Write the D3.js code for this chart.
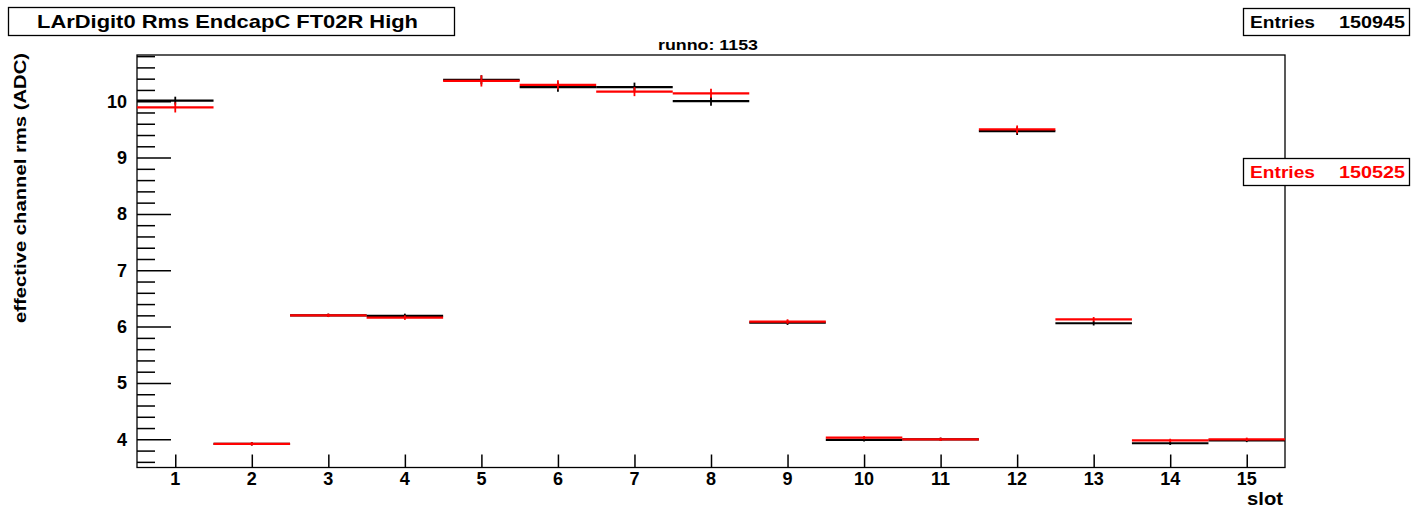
<!DOCTYPE html>
<html>
<head>
<meta charset="utf-8">
<script src="https://cdn.jsdelivr.net/npm/d3@7"></script>
<style>
  body { margin: 0; background: #fff; }
  text { font-family: "Liberation Sans", Arial, Helvetica, sans-serif; font-weight: bold; }
</style>
</head>
<body>
<div id="chart"></div>
<script>
// data
let slots = [1, 2, 3, 4, 5, 6, 7, 8, 9, 10, 11, 12, 13, 14, 15],
    black_mean = [10.01, 3.92, 6.20, 6.19, 10.38, 10.25, 10.25, 10.00, 6.07, 3.99, 4.00, 9.47, 6.06, 3.93, 3.98],
    black_err = [0.07, 0.03, 0.03, 0.04, 0.08, 0.08, 0.08, 0.08, 0.04, 0.03, 0.03, 0.07, 0.04, 0.03, 0.03],
    red_mean = [9.89, 3.92, 6.20, 6.16, 10.36, 10.29, 10.17, 10.14, 6.09, 4.03, 4.00, 9.50, 6.13, 3.98, 4.00],
    red_err = [0.09, 0.03, 0.03, 0.04, 0.10, 0.08, 0.08, 0.08, 0.04, 0.03, 0.03, 0.07, 0.04, 0.03, 0.03],
    y_ticks = [4, 5, 6, 7, 8, 9, 10],
    black_entries = 150945,
    red_entries = 150525,
    title_text = "LArDigit0 Rms EndcapC FT02R High",
    run_text = "runno: 1153";

{
    function drawChart() {
        let width = 1411,
            height = 509,
            margin = { top: 55, right: 126, bottom: 41.5, left: 137 };

        let svg = d3.select("#chart").append("svg")
            .attr("width", width)
            .attr("height", height);

        let x = d3.scaleLinear()
            .domain([0.5, 15.5])
            .range([margin.left, width - margin.right]);
        let y = d3.scaleLinear()
            .domain([3.5, 10.82])
            .range([height - margin.bottom, margin.top]);

        // frame
        svg.append("rect")
            .attr("x", x(0.5))
            .attr("y", y(10.82))
            .attr("width", x(15.5) - x(0.5))
            .attr("height", y(3.5) - y(10.82))
            .attr("fill", "none")
            .attr("stroke", "#000")
            .attr("stroke-width", 1.3);

        // y axis: major ticks with labels, minor ticks every 0.2
        let yAxis = d3.axisRight(y)
            .tickValues(y_ticks)
            .tickSize(34)
            .tickFormat("");
        let yMinor = d3.axisRight(y)
            .tickValues(d3.range(18, 55).map(function(d) { return d / 5; }).filter(function(v) { return Math.abs(v - Math.round(v)) > 0.01; }))
            .tickSize(18)
            .tickFormat("");
        [yAxis, yMinor].forEach(function(ax) {
            let g = svg.append("g")
                .attr("transform", "translate(" + x(0.5) + ",0)")
                .call(ax);
            g.select(".domain").remove();
            g.selectAll("line").attr("stroke", "#000").attr("stroke-width", 1.5);
        });
        svg.selectAll(".yLabel")
            .data(y_ticks)
            .enter()
            .append("text")
            .attr("class", "yLabel")
            .attr("x", x(0.5) - 10)
            .attr("y", function(d) { return y(d); })
            .attr("dy", 6.5)
            .attr("text-anchor", "end")
            .attr("font-size", 18)
            .text(function(d) { return d; });

        // x axis
        let xAxis = d3.axisTop(x)
            .tickValues(slots)
            .tickSize(13)
            .tickFormat("");
        let gx = svg.append("g")
            .attr("transform", "translate(0," + y(3.5) + ")")
            .call(xAxis);
        gx.select(".domain").remove();
        gx.selectAll("line").attr("stroke", "#000").attr("stroke-width", 1.5);
        svg.selectAll(".xLabel")
            .data(slots)
            .enter()
            .append("text")
            .attr("class", "xLabel")
            .attr("x", function(d) { return x(d); })
            .attr("y", y(3.5) + 17)
            .attr("text-anchor", "middle")
            .attr("font-size", 18)
            .text(function(d) { return d; });

        // histograms, black first then red on top
        function drawHist(means, errs, color, cls) {
            let data = slots.map(function(s, i) { return { s: s, m: means[i], e: errs[i] }; });
            svg.selectAll("." + cls + "H")
                .data(data)
                .enter()
                .append("line")
                .attr("class", cls + "H")
                .attr("x1", function(d) { return x(d.s - 0.5); })
                .attr("x2", function(d) { return x(d.s + 0.5); })
                .attr("y1", function(d) { return y(d.m); })
                .attr("y2", function(d) { return y(d.m); })
                .attr("stroke", color)
                .attr("stroke-width", 2.2);
            svg.selectAll("." + cls + "E")
                .data(data)
                .enter()
                .append("line")
                .attr("class", cls + "E")
                .attr("x1", function(d) { return x(d.s); })
                .attr("x2", function(d) { return x(d.s); })
                .attr("y1", function(d) { return y(d.m - d.e); })
                .attr("y2", function(d) { return y(d.m + d.e); })
                .attr("stroke", color)
                .attr("stroke-width", 1.8);
        }
        drawHist(black_mean, black_err, "#000", "blk");
        drawHist(red_mean, red_err, "#ff0000", "red");

        // title box
        svg.append("rect")
            .attr("x", 8.5)
            .attr("y", 7.5)
            .attr("width", 446)
            .attr("height", 28)
            .attr("fill", "#fff")
            .attr("stroke", "#000")
            .attr("stroke-width", 1.3);
        svg.append("text")
            .attr("x", 227.5)
            .attr("y", 28)
            .attr("text-anchor", "middle")
            .attr("font-size", 19)
            .attr("textLength", 381)
            .attr("lengthAdjust", "spacingAndGlyphs")
            .text(title_text);

        svg.append("text")
            .attr("x", 708)
            .attr("y", 50)
            .attr("text-anchor", "middle")
            .attr("font-size", 14)
            .attr("textLength", 100)
            .attr("lengthAdjust", "spacingAndGlyphs")
            .text(run_text);

        // stat boxes
        function statBox(top, n, color) {
            svg.append("rect")
                .attr("x", 1243.5)
                .attr("y", top)
                .attr("width", 166)
                .attr("height", 27)
                .attr("fill", "#fff")
                .attr("stroke", "#000")
                .attr("stroke-width", 1.3);
            svg.append("text")
                .attr("x", 1250)
                .attr("y", top + 19)
                .attr("font-size", 17)
                .attr("textLength", 65)
                .attr("lengthAdjust", "spacingAndGlyphs")
                .attr("fill", color)
                .text("Entries");
            svg.append("text")
                .attr("x", 1339)
                .attr("y", top + 19)
                .attr("font-size", 17)
                .attr("textLength", 66)
                .attr("lengthAdjust", "spacingAndGlyphs")
                .attr("fill", color)
                .text(n);
        }
        statBox(8.5, black_entries, "#000");
        statBox(158.5, red_entries, "#ff0000");

        // axis titles
        svg.append("text")
            .attr("x", 1247)
            .attr("y", 505)
            .attr("font-size", 18)
            .attr("textLength", 36)
            .attr("lengthAdjust", "spacingAndGlyphs")
            .text("slot");
        svg.append("text")
            .attr("transform", "translate(26,188) rotate(-90)")
            .attr("text-anchor", "middle")
            .attr("font-size", 17)
            .attr("textLength", 270)
            .attr("lengthAdjust", "spacingAndGlyphs")
            .text("effective channel rms (ADC)");
    }
}

drawChart();
</script>
</body>
</html>
